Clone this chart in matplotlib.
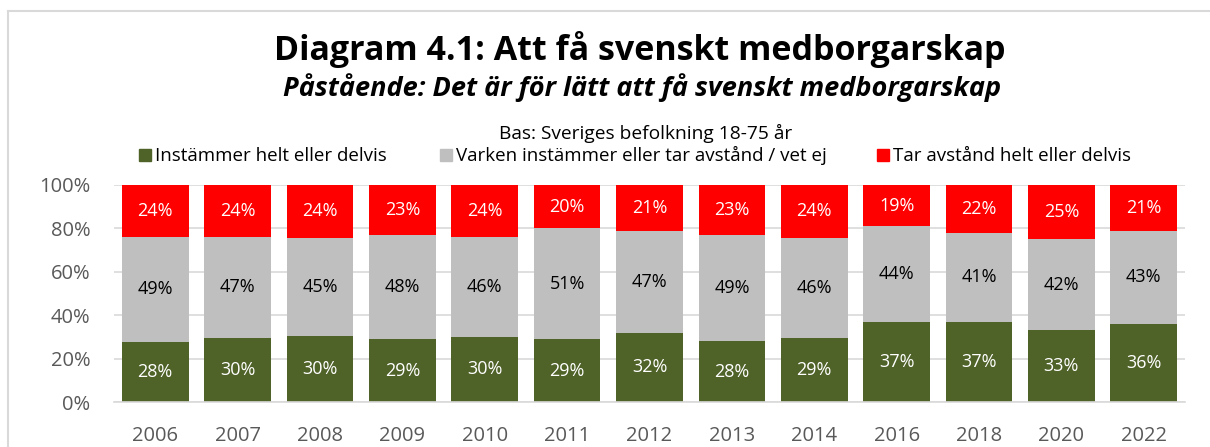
import matplotlib.pyplot as plt
import matplotlib.patches as mpatches
import matplotlib.lines as mlines
import numpy as np

plt.rcParams['font.family'] = ['Open Sans', 'DejaVu Sans']

years = ['2006', '2007', '2008', '2009', '2010', '2011', '2012',
         '2013', '2014', '2016', '2018', '2020', '2022']
agree = [28, 30, 30, 29, 30, 29, 32, 28, 29, 37, 37, 33, 36]
neither = [49, 47, 45, 48, 46, 51, 47, 49, 46, 44, 41, 42, 43]
disagree = [24, 24, 24, 23, 24, 20, 21, 23, 24, 19, 22, 25, 21]

series_names = ['Instämmer helt eller delvis',
                'Varken instämmer eller tar avstånd / vet ej',
                'Tar avstånd helt eller delvis']
colors = ['#4F6228', '#BFBFBF', '#FF0000']
label_colors = ['white', 'black', 'white']

W, H = 1210, 447
fig = plt.figure(figsize=(W / 100, H / 100), dpi=100)

def fx(px):
    return px / W

def fy(py):
    return 1 - py / H

ax = fig.add_axes([fx(114), fy(402), fx(1185) - fx(114), fy(185) - fy(402)])

# 100% stacked: each year is scaled to sum to one
data = np.array([agree, neither, disagree], dtype=float)
shares = data / data.sum(axis=0)
x = np.arange(len(years))
bottom = np.zeros(len(years))
for i in range(3):
    bars = ax.bar(x, shares[i], 0.81, bottom=bottom, color=colors[i], zorder=2)
    ax.bar_label(bars, labels=['%d%%' % v for v in data[i]], label_type='center',
                 color=label_colors[i], fontsize=13)
    bottom += shares[i]

ax.set_xlim(-0.5, len(years) - 0.5)
ax.set_ylim(0, 1)
ax.set_yticks(np.arange(0, 1.01, 0.2))
ax.set_yticklabels(['%d%%' % v for v in range(0, 101, 20)])
ax.set_xticks(x)
ax.set_xticklabels(years)
ax.tick_params(length=0, labelsize=14.5, labelcolor='#595959')
ax.tick_params(axis='y', pad=17)
ax.tick_params(axis='x', pad=17)
ax.grid(axis='y', color='#D9D9D9', linewidth=1.2, zorder=0)
for s in ['top', 'right', 'left']:
    ax.spines[s].set_visible(False)
ax.spines['bottom'].set_color('#D9D9D9')
ax.spines['bottom'].set_linewidth(1.2)

fig.text(fx(640), fy(60), 'Diagram 4.1: Att få svenskt medborgarskap', ha='center',
         va='baseline', fontsize=24.5, fontweight='bold')
fig.text(fx(642), fy(96), 'Påstående: Det är för lätt att få svenskt medborgarskap',
         ha='center', va='baseline', fontsize=19.5, fontweight='bold', style='italic')
fig.text(fx(646), fy(139), 'Bas: Sveriges befolkning 18-75 år', ha='center',
         va='baseline', fontsize=13.8)

legend_x = [139, 440, 877]
for lx, name, c in zip(legend_x, series_names, colors):
    fig.patches.append(mpatches.Rectangle((fx(lx), fy(161)), fx(12), fy(149) - fy(161),
                                          transform=fig.transFigure, color=c))
    fig.text(fx(lx + 16), fy(161), name, ha='left', va='baseline', fontsize=13.5)

# chart border
fig.lines.append(mlines.Line2D([fx(8), 1], [fy(11), fy(11)], transform=fig.transFigure,
                               color='#D9D9D9', linewidth=1.5))
fig.lines.append(mlines.Line2D([fx(8), fx(8)], [fy(11), 0], transform=fig.transFigure,
                               color='#D9D9D9', linewidth=1.5))

fig.savefig('out.png', dpi=100)
